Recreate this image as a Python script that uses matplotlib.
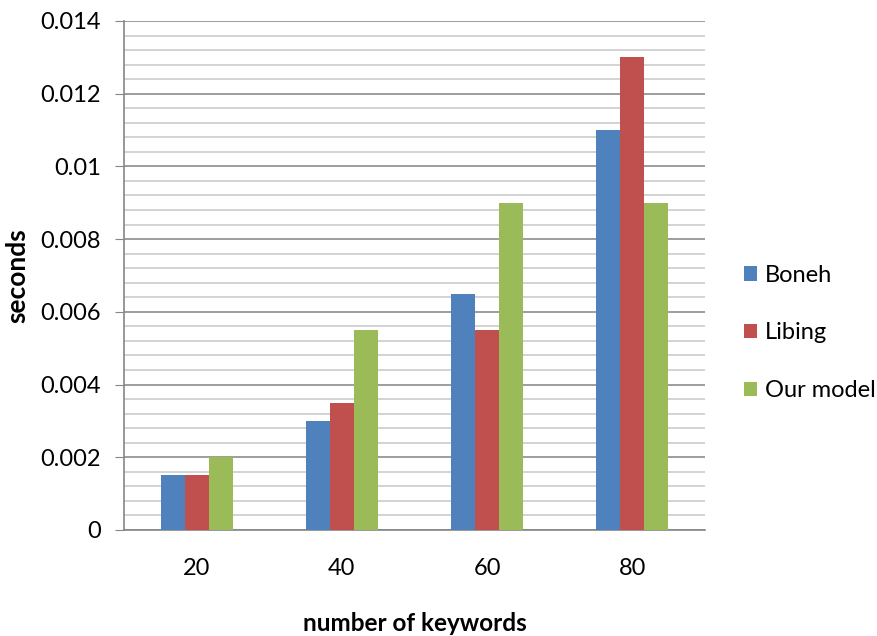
import matplotlib
matplotlib.use('Agg')
import matplotlib.pyplot as plt
import numpy as np
from matplotlib.ticker import MultipleLocator

plt.rcParams['font.family'] = ['Lato', 'DejaVu Sans']

# data
categories = ['20', '40', '60', '80']
boneh = [0.0015, 0.003, 0.0065, 0.011]
libing = [0.0015, 0.0035, 0.0055, 0.013]
our_model = [0.002, 0.0055, 0.009, 0.009]
series_names = ['Boneh', 'Libing', 'Our model']

colors = ['#4F81BD', '#C0504D', '#9BBB59']

fig = plt.figure(figsize=(8.78, 6.36), dpi=100)
ax = fig.add_axes([0.1412, 0.1667, 0.803 - 0.1412, 0.967 - 0.1667])

x = np.arange(len(categories))
width = 0.165
for i, (vals, name) in enumerate(zip([boneh, libing, our_model], series_names)):
    ax.bar(x + (i - 1) * width, vals, width, color=colors[i], label=name, zorder=3)

ax.set_xlim(-0.5, len(categories) - 0.5)
ax.set_ylim(0, 0.014)
ax.yaxis.set_minor_locator(MultipleLocator(0.0004))
ax.set_yticks(np.arange(0, 0.0141, 0.002))
ax.set_yticklabels(['0', '0.002', '0.004', '0.006', '0.008', '0.01', '0.012', '0.014'])
ax.set_xticks(x)
ax.set_xticklabels(categories)

ax.grid(which='major', axis='y', color='#8c8c8c', linewidth=1.2, zorder=0)
ax.grid(which='minor', axis='y', color='#cccccc', linewidth=1.2, zorder=0)

for s in ['top', 'right']:
    ax.spines[s].set_visible(False)
ax.spines['left'].set_color('#868686')
ax.spines['bottom'].set_color('#868686')
ax.spines['left'].set_linewidth(1.2)
ax.spines['bottom'].set_linewidth(1.2)

ax.tick_params(axis='y', which='major', length=6.5, color='#868686', labelsize=17, pad=10)
ax.tick_params(axis='y', which='minor', length=0)
ax.tick_params(axis='x', which='major', length=0, labelsize=17, pad=20)

ax.set_ylabel('seconds', fontsize=19, fontweight='bold', labelpad=8)
ax.set_xlabel('number of keywords', fontsize=17.5, fontweight='bold', labelpad=24)

ax.legend(loc='center left', bbox_to_anchor=(1.03, 0.387), frameon=False,
          fontsize=17, handlelength=0.55, handleheight=0.55, handletextpad=0.35,
          labelspacing=1.55)

fig.savefig('out.png', dpi=100)
